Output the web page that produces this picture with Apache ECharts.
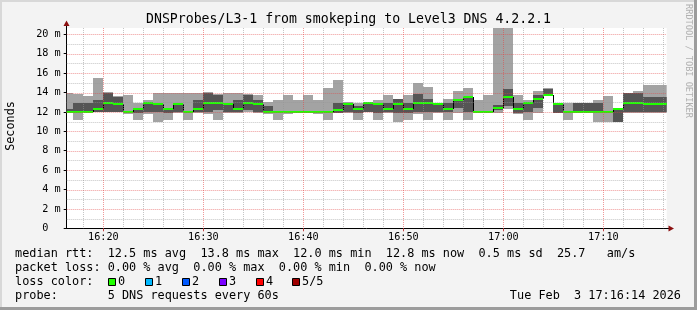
<!DOCTYPE html>
<html><head><meta charset="utf-8">
<script src="https://cdn.jsdelivr.net/npm/echarts@6/dist/echarts.min.js"></script>
<style>html,body{margin:0;padding:0;background:#f3f3f3}#c{width:697px;height:310px}</style>
</head><body><div id="c"></div>
<script>
// ---- data (end time of each 60 s step, 5 pings sorted) ----
const times = ['16:17','16:18','16:19','16:20','16:21','16:22','16:23','16:24','16:25','16:26',
  '16:27','16:28','16:29','16:30','16:31','16:32','16:33','16:34','16:35','16:36',
  '16:37','16:38','16:39','16:40','16:41','16:42','16:43','16:44','16:45','16:46',
  '16:47','16:48','16:49','16:50','16:51','16:52','16:53','16:54','16:55','16:56',
  '16:57','16:58','16:59','17:00','17:01','17:02','17:03','17:04','17:05','17:06',
  '17:07','17:08','17:09','17:10','17:11','17:12','17:13','17:14','17:15','17:16','17:17'];
const rttMin = [11.9,11.15,11.9,11.95,11.95,11.95,11.8,11.2,11.8,11.0,
  11.2,11.85,11.15,11.85,11.8,11.15,11.85,11.85,12.0,11.85,
  11.8,11.2,11.8,11.9,11.9,11.8,11.2,11.9,11.9,11.15,
  11.95,11.2,11.9,11.0,11.15,11.8,11.2,11.9,11.2,11.9,
  11.2,11.9,11.9,11.9,12.3,11.8,11.2,11.9,13.6,11.85,
  11.2,11.9,11.9,11.0,11.0,11.0,11.9,11.9,11.9,11.9,11.9];
const rtt2 = [11.95,11.95,11.95,12.0,12.0,12.0,11.85,11.85,12.0,12.0,
  11.9,12.0,11.9,12.0,12.0,12.2,12.0,12.0,12.2,12.0,
  11.9,11.9,11.9,11.95,11.95,11.9,11.9,11.9,12.0,11.9,
  12.0,11.9,11.95,11.9,11.9,12.0,12.0,12.0,11.95,12.4,
  12.0,11.95,11.95,12.2,12.6,11.9,12.0,12.4,13.65,11.9,
  11.9,11.9,11.9,11.9,11.9,11.0,12.0,12.0,12.0,12.0,12.0];
const rttMedian = [12.0,12.0,12.0,12.25,12.95,12.8,11.95,12.25,12.95,12.8,
  12.25,12.8,11.95,12.25,12.95,12.95,12.8,12.25,12.95,12.8,
  11.95,11.95,11.95,11.95,11.95,11.95,11.95,12.2,12.8,12.25,
  12.95,12.8,12.25,12.8,12.25,12.95,12.95,12.8,12.25,13.25,
  13.55,11.95,11.95,12.4,13.55,12.25,12.95,13.3,13.75,12.8,
  11.95,11.95,11.95,11.95,11.95,12.25,12.95,12.95,12.8,12.8,12.8];
const rtt4 = [12.25,12.9,12.9,13.2,14.0,13.55,12.0,12.3,13.0,12.9,
  12.4,12.9,12.0,13.2,14.0,13.75,12.9,13.2,13.75,13.2,
  12.6,12.0,12.0,12.1,12.0,12.0,12.0,12.9,12.9,12.6,
  13.0,12.9,12.9,13.3,12.9,13.8,13.3,12.9,12.9,13.3,
  13.6,12.0,12.0,12.7,14.4,12.9,13.0,13.75,14.4,12.9,
  12.0,12.9,12.9,12.9,12.0,12.4,13.9,13.9,13.55,13.55,13.55];
const rttMax = [14.0,13.8,13.65,15.5,14.05,13.65,13.75,12.95,13.2,14.0,
  14.0,14.0,14.0,14.0,14.05,13.8,14.0,14.0,13.8,13.75,
  13.0,13.2,13.75,13.2,13.75,13.2,14.45,15.3,13.0,12.9,
  13.05,13.2,13.75,13.35,13.75,15.0,14.6,12.95,13.3,14.2,
  14.5,13.2,13.75,21.5,21.5,13.75,13.2,14.15,14.45,12.95,
  12.95,12.9,12.9,13.2,13.6,12.4,13.9,14.15,14.8,14.8,14.8];

const xRange = ['16:16:20','17:16:20'];
const xMajorTicks = ['16:20','16:30','16:40','16:50','17:00','17:10'];
const xMinorTicks = ['16:18','16:22','16:24','16:26','16:28','16:32','16:34','16:36','16:38',
  '16:42','16:44','16:46','16:48','16:52','16:54','16:56','16:58','17:02','17:04','17:06','17:08',
  '17:12','17:14','17:16'];
const yMajorTicks = [0,2,4,6,8,10,12,14,16,18,20];
const yMinorTicks = [1,3,5,7,9,11,13,15,17,19];
const yTop = 20.65;

const titleText = 'DNSProbes/L3-1 from smokeping to Level3 DNS 4.2.2.1';
const legendLines = [
  'median rtt:  12.5 ms avg  13.8 ms max  12.0 ms min  12.8 ms now  0.5 ms sd  25.7   am/s',
  'packet loss: 0.00 % avg  0.00 % max  0.00 % min  0.00 % now',
  'loss color:',
  'probe:       5 DNS requests every 60s'
];
const lossLabels = ['0','1','2','3','4','5/5'];
const lossColors = ['#20ff00','#00b8ff','#0059ff','#7a00ff','#ff0000','#a00000'];
const dateText = 'Tue Feb  3 17:16:14 2026';

// ---- helpers ----
function toMin(s){ const p=s.split(':').map(Number); return (p[0]-16)*60 + p[1] + (p[2]||0)/60; }
const MONO = '"DejaVu Sans Mono", monospace';
const LIGHT = '#a3a3a3', DARK = '#555555', GREEN = '#20ff00';

const smokeData = times.map((t,i)=>[toMin(t)-1, toMin(t), rttMin[i], rtt2[i], rttMedian[i], rtt4[i], rttMax[i]]);

function renderSmoke(params, api){
  const i = params.dataIndex;
  const cs = params.coordSys;
  const clip = {x:cs.x, y:cs.y, width:cs.width, height:cs.height};
  const x0 = api.value(0), x1 = api.value(1);
  const children = [];
  function band(lo, hi, fill){
    const a = api.coord([x0, hi]), b = api.coord([x1, lo]);
    const ax = Math.round(a[0]), bx = Math.round(b[0]);
    const ay = Math.round(a[1]), by = Math.round(b[1]);
    const r = echarts.graphic.clipRectByRect({x:ax, y:ay, width:bx-ax, height:Math.max(by-ay,0)}, clip);
    if (r && r.height>0) children.push({type:'rect', shape:r, style:{fill:fill}});
  }
  band(api.value(2), api.value(6), LIGHT);
  band(api.value(3), api.value(5), DARK);
  const med = api.value(4);
  if (i>0){
    const prev = rttMedian[i-1];
    const p1 = api.coord([x0, prev]), p2 = api.coord([x0, med]);
    const xx = Math.round(p1[0]) + 0.5;
    if (xx > cs.x) children.push({type:'line', shape:{x1:xx, y1:Math.round(p1[1]), x2:xx, y2:Math.round(p2[1])}, style:{stroke:'#000', lineWidth:1}});
  }
  const a = api.coord([x0, med]), b = api.coord([x1, med]);
  const ax = Math.round(a[0]), bx = Math.round(b[0]);
  const gy = Math.round(a[1]) - 1;
  const g = echarts.graphic.clipRectByRect({x:ax, y:gy, width:bx-ax, height:2}, clip);
  if (g) children.push({type:'rect', shape:g, style:{fill:GREEN}});
  return {type:'group', children};
}

function vLines(color){
  return function(params, api){
    const cs = params.coordSys;
    const x = Math.round(api.coord([api.value(0), 0])[0]) + 0.5;
    return {type:'line', shape:{x1:x, y1:cs.y, x2:x, y2:cs.y+cs.height}, style:{stroke:color, lineWidth:1, lineDash:[1,1]}};
  };
}
function hLines(color){
  return function(params, api){
    const cs = params.coordSys;
    const y = Math.round(api.coord([toMin(xRange[0]), api.value(0)])[1]) + 0.5;
    return {type:'line', shape:{x1:cs.x, y1:y, x2:cs.x+cs.width, y2:y}, style:{stroke:color, lineWidth:1, lineDash:[1,1]}};
  };
}
const MINOR = 'rgba(150,150,150,0.55)', MAJOR = 'rgba(225,70,70,0.55)';

function fmtTime(v){ const t=Math.round(v); const h=16+Math.floor(t/60), m=t%60; return h+':'+(m<10?'0':'')+m; }

const chart = echarts.init(document.getElementById('c'), null, {renderer:'canvas'});
const graphics = [
  {type:'rect', shape:{x:0,y:0,width:697,height:2}, style:{fill:'#d8d8d8'}, z:100},
  {type:'rect', shape:{x:0,y:0,width:2,height:310}, style:{fill:'#d8d8d8'}, z:100},
  {type:'rect', shape:{x:0,y:307,width:697,height:3}, style:{fill:'#9c9c9c'}, z:100},
  {type:'rect', shape:{x:694,y:0,width:3,height:310}, style:{fill:'#9c9c9c'}, z:100},
  {type:'text', style:{text:titleText, x:348.5, y:20, align:'center', verticalAlign:'middle', font:'13.2px '+MONO, fill:'#000'}},
  {type:'text', rotation:Math.PI/2, x:11, y:126, style:{text:'Seconds', x:0, y:0, align:'center', verticalAlign:'middle', font:'11.8px '+MONO, fill:'#000'}},
  {type:'text', rotation:-Math.PI/2, x:688.5, y:61, style:{text:'RRDTOOL / TOBI OETIKER', x:0, y:0, align:'center', verticalAlign:'middle', font:'8.6px '+MONO, fill:'#b0b0b0'}},
  // axis extensions and arrows
  {type:'line', shape:{x1:66.5,y1:22,x2:66.5,y2:28}, style:{stroke:'#000',lineWidth:1}},
  {type:'polygon', shape:{points:[[66.5,20.5],[63.5,26],[69.5,26]]}, style:{fill:'#8b1010'}},
  {type:'line', shape:{x1:666,y1:228.5,x2:672,y2:228.5}, style:{stroke:'#000',lineWidth:1}},
  {type:'polygon', shape:{points:[[674,228.5],[668.5,225.5],[668.5,231.5]]}, style:{fill:'#8b1010'}},
  {type:'text', style:{text:dateText, x:681, y:295.5, align:'right', verticalAlign:'middle', font:'11.85px '+MONO, fill:'#000'}}
];
legendLines.forEach((t,k)=>{
  graphics.push({type:'text', style:{text:t, x:15, y:253.5+14*k, align:'left', verticalAlign:'middle', font:'11.85px '+MONO, fill:'#000'}});
});
const boxX = [108.5,145.5,182.5,219.5,256.5,292.5];
lossLabels.forEach((l,k)=>{
  graphics.push({type:'rect', shape:{x:boxX[k], y:278.5, width:7, height:7}, style:{fill:lossColors[k], stroke:'#000', lineWidth:1}});
  graphics.push({type:'text', style:{text:l, x:boxX[k]+9.5, y:281.5, align:'left', verticalAlign:'middle', font:'11.85px '+MONO, fill:'#000'}});
});

chart.setOption({
  animation:false,
  backgroundColor:'#f3f3f3',
  grid:{left:66.7, top:28, width:600, height:200.3, show:true, backgroundColor:'#ffffff', borderWidth:0},
  xAxis:{type:'value', min:toMin(xRange[0]), max:toMin(xRange[1]),
    axisLine:{show:true, onZero:false, lineStyle:{color:'#000', width:1}},
    axisTick:{show:true, length:3, inside:false, customValues:xMajorTicks.map(toMin), lineStyle:{color:'#c04040'}},
    axisLabel:{customValues:xMajorTicks.map(toMin), formatter:fmtTime, fontFamily:MONO, fontSize:10.2, color:'#000', margin:4},
    splitLine:{show:false}},
  yAxis:{type:'value', min:0, max:yTop, interval:2,
    axisLine:{show:true, lineStyle:{color:'#000', width:1}},
    axisTick:{show:true, length:3, customValues:yMajorTicks, lineStyle:{color:'#000'}},
    axisLabel:{customValues:yMajorTicks, formatter:v=> v===0 ? '0  ' : v+' m', fontFamily:MONO, fontSize:10.2, color:'#000', margin:6},
    splitLine:{show:false}},
  graphic:graphics,
  series:[
    {type:'custom', name:'smoke', renderItem:renderSmoke, data:smokeData, encode:{x:[0,1], y:[2,6]}, z:2, clip:true},
    {type:'custom', name:'xminor', renderItem:vLines(MINOR), data:xMinorTicks.map(t=>[toMin(t)]), encode:{x:0}, z:3, silent:true},
    {type:'custom', name:'yminor', renderItem:hLines(MINOR), data:yMinorTicks.map(v=>[v]), encode:{y:0}, z:3, silent:true},
    {type:'custom', name:'xmajor', renderItem:vLines(MAJOR), data:xMajorTicks.map(t=>[toMin(t)]), encode:{x:0}, z:4, silent:true},
    {type:'custom', name:'ymajor', renderItem:hLines(MAJOR), data:yMajorTicks.filter(v=>v>0).map(v=>[v]), encode:{y:0}, z:4, silent:true}
  ]
});
</script></body></html>
